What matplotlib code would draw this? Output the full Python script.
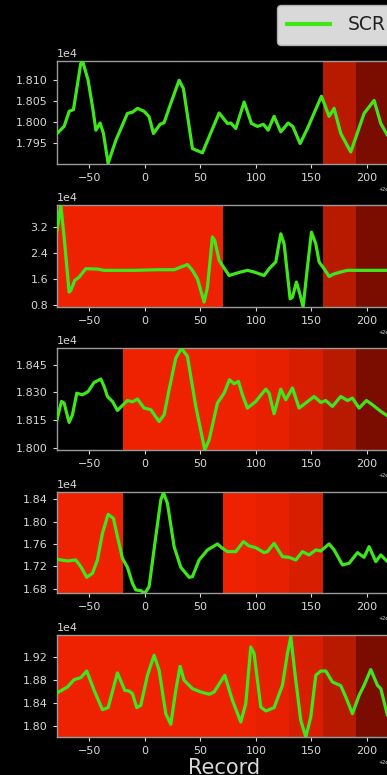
import matplotlib
import matplotlib.pyplot as plt
from matplotlib.ticker import MultipleLocator

matplotlib.use("agg")

X_BASE = 20000

# panel 1
p1_x = [-79, -72.6, -68, -64.2, -57.6, -56, -51, -47, -44, -40.2, -37.2, -33, -26,
        -15.6, -11, -6.6, -0.6, 3.9, 7.8, 13.8, 17.4, 23.4, 30.9, 34.8, 42.9, 47.4,
        51.9, 57.9, 66.9, 74.4, 77.4, 81.9, 89.4, 96, 101.4, 106.8, 111, 116.4,
        122.4, 129, 133.2, 139.8, 146.4, 159, 165.9, 170.4, 176.4, 185.4, 197.4,
        206.4, 212.4, 218.4, 223]
p1_y = [17973, 17990, 18026, 18030, 18140, 18146, 18100, 18036, 17981, 17998, 17973,
        17902, 17957, 18021, 18024, 18033, 18026, 18013, 17973, 17995, 17999, 18045,
        18100, 18080, 17937, 17932, 17927, 17965, 18022, 17997, 17998, 17985, 18048,
        17997, 17990, 17995, 17981, 18014, 17977, 17998, 17990, 17949, 17985, 18062,
        18014, 18033, 17973, 17929, 18021, 18052, 17997, 17969, 17955]

# panel 2
p2_x = [-79, -75.6, -72.6, -68.1, -66.6, -63, -59.1, -53.1, -42.6, -36.6, -9.6, 11.4,
        26.4, 32.4, 38.4, 42.9, 47.4, 50.4, 53.4, 56.4, 60.9, 63, 66.9, 69.9, 75.9,
        80.4, 86.4, 92.4, 98.4, 107.4, 111.9, 117.9, 122.4, 125.4, 130.8, 132.9,
        136.5, 139.5, 142.5, 146.4, 150, 153.9, 156.9, 161.4, 165.9, 170.4, 176.4,
        182.4, 223]
p2_y = [31000, 38800, 29000, 12000, 12500, 15600, 16600, 19200, 19100, 18700, 18700,
        18900, 18900, 19700, 20500, 18700, 16100, 12500, 8900, 13500, 29000, 27900,
        21800, 20200, 17100, 17600, 18200, 18700, 18200, 17100, 19200, 21300, 30000,
        26900, 9900, 10400, 15100, 11500, 7400, 19700, 30500, 26900, 21300, 19200,
        16800, 17600, 18200, 18700, 18700]

# panel 3
p3_x = [-79, -75, -72.6, -68.1, -65.1, -61.2, -56.1, -51, -45.6, -39.6, -36.6, -33.6,
        -29.1, -24.6, -21, -15.6, -11.1, -6.6, -0.6, 5.4, 12.9, 17.4, 21.9, 27.9, 33,
        38.4, 45.9, 54, 57.9, 65.4, 71.4, 76.2, 80.4, 84.3, 87.9, 92.4, 99.9, 108.9,
        111.9, 116.4, 122.4, 126.9, 132.9, 138.9, 152.4, 158.4, 162.9, 168.9, 176.4,
        182.4, 186.9, 192.9, 199.5, 204.9, 212.4, 218.4, 223]
p3_y = [18151, 18251, 18242, 18137, 18178, 18296, 18287, 18305, 18354, 18373, 18333,
        18278, 18251, 18202, 18224, 18256, 18249, 18264, 18215, 18206, 18142, 18178,
        18315, 18487, 18540, 18496, 18224, 17988, 18042, 18242, 18296, 18369, 18347,
        18360, 18287, 18215, 18251, 18318, 18296, 18184, 18318, 18260, 18324, 18215,
        18278, 18246, 18256, 18224, 18278, 18256, 18269, 18215, 18256, 18233, 18197,
        18173, 18165]

# panel 4
p4_x = [-79, -69.6, -62.1, -57.6, -52.2, -47.1, -42.6, -38.1, -33, -28.2, -24.6,
        -20.1, -15.6, -11.1, -8.1, -3.6, 0, 3.9, 9.9, 14.4, 16.8, 20.4, 26.4, 32.4,
        39.9, 42.9, 48.9, 56.4, 65.4, 69.9, 74.4, 81.9, 88.8, 93.9, 99.9, 107.4,
        110.4, 116.4, 123.9, 129.9, 135.9, 141.9, 147.9, 153.9, 158.4, 165.9, 170.4,
        177.9, 183.9, 191.4, 197.4, 201.9, 207.9, 212.4, 218.4, 223]
p4_y = [17325, 17296, 17313, 17194, 17003, 17075, 17313, 17791, 18131, 18060, 17731,
        17343, 17182, 16896, 16776, 16764, 16716, 16836, 17731, 18388, 18519, 18328,
        17552, 17182, 17003, 17015, 17313, 17493, 17600, 17522, 17463, 17463, 17642,
        17564, 17534, 17445, 17463, 17612, 17373, 17361, 17313, 17463, 17403, 17493,
        17475, 17600, 17493, 17224, 17254, 17445, 17361, 17552, 17284, 17403, 17284,
        17300]

# panel 5
p5_x = [-79, -69.6, -63.6, -57.6, -52.2, -45.6, -38.1, -33, -24.6, -18, -14.1, -11.1,
        -7.2, -3.6, 2.4, 8.4, 12.9, 18.9, 23.4, 27.9, 31.8, 35.4, 42.9, 50.4, 57.9,
        62.4, 72, 78.9, 86.4, 90.9, 95.4, 98.4, 104.4, 108.9, 116.4, 123.9, 128.4,
        131.4, 135.9, 140.4, 144.9, 149.4, 153.9, 158.4, 162.9, 168.9, 176.4, 180.9,
        186.9, 192.9, 197.4, 203.4, 209.4, 212.4, 218.4, 223]
p5_y = [18580, 18684, 18812, 18846, 18962, 18626, 18290, 18325, 18928, 18626, 18614,
        18568, 18325, 18365, 18887, 19235, 18974, 18220, 18035, 18626, 19043, 18800,
        18655, 18597, 18557, 18597, 18887, 18452, 18075, 18394, 19380, 19264, 18336,
        18267, 18325, 18713, 19264, 19554, 18800, 18104, 17814, 18162, 18887, 18962,
        18962, 18771, 18707, 18510, 18220, 18539, 18713, 18986, 18713, 18655, 18191,
        18120]

# highlighted windows: (start, end, shade level)
p1_spans = [(160, 190, 3), (190, 230, 4)]
p2_spans = [(-80, 70, 0), (160, 190, 3), (190, 230, 4)]
p3_spans = [(-20, 100, 0), (100, 130, 1), (130, 160, 2), (160, 190, 3), (190, 230, 4)]
p4_spans = [(-80, -20, 0), (70, 100, 0), (100, 130, 1), (130, 160, 2)]
p5_spans = [(-80, 100, 0), (100, 130, 1), (130, 160, 2), (160, 190, 3), (190, 230, 4)]

ylims = [(17901, 18146), (7290, 38890), (17987, 18540), (16716, 18537), (17809, 19588)]
ysteps = [50, 8000, 150, 400, 400]

shades = ["#ee2200", "#e62000", "#d81e00", "#b81a00", "#7a0c00"]
green = "#3ee61a"
fg = "#d8d8d8"

# axes tops/bottoms in pixels (fig is 387x775)
panel_px = [(61, 163.7), (205, 307.3), (348.3, 450), (491.7, 593.3), (635, 737.3)]


def draw_panel(fig, rect, xs, ys, spans, ylim, ystep):
    ax = fig.add_axes(rect)
    ax.set_facecolor("black")
    for s0, s1, lvl in spans:
        ax.axvspan(X_BASE + s0, X_BASE + s1, color=shades[lvl], lw=0, zorder=0)
    (line,) = ax.plot([X_BASE + x for x in xs], ys, color=green, lw=2.3,
                      solid_joinstyle="round", zorder=3)
    ax.set_xlim(X_BASE - 79, X_BASE + 222.5)
    ax.set_ylim(*ylim)
    ax.yaxis.set_major_locator(MultipleLocator(ystep))
    ax.xaxis.set_major_locator(MultipleLocator(50))
    ax.ticklabel_format(axis="y", style="sci", scilimits=(0, 0), useOffset=False)
    ax.xaxis.get_major_formatter().set_useOffset(X_BASE)
    ax.tick_params(colors=fg, labelsize=8, length=3)
    ax.yaxis.get_offset_text().set_color(fg)
    ax.yaxis.get_offset_text().set_fontsize(8)
    ax.xaxis.get_offset_text().set_color(fg)
    ax.xaxis.get_offset_text().set_fontsize(3.5)
    for sp in ax.spines.values():
        sp.set_color("#9a9a9a")
        sp.set_linewidth(1.0)
    return ax, line


fig = plt.figure(figsize=(3.87, 7.75), dpi=100, facecolor="black")

all_x = [p1_x, p2_x, p3_x, p4_x, p5_x]
all_y = [p1_y, p2_y, p3_y, p4_y, p5_y]
all_spans = [p1_spans, p2_spans, p3_spans, p4_spans, p5_spans]

left = 57 / 387
width = (392 - 57) / 387
axes = []
for i in range(5):
    top, bot = panel_px[i]
    rect = [left, 1 - bot / 775, width, (bot - top) / 775]
    ax, line = draw_panel(fig, rect, all_x[i], all_y[i], all_spans[i], ylims[i], ysteps[i])
    axes.append(ax)

axes[-1].set_xlabel("Record", color=fg, fontsize=15, labelpad=1)

leg = fig.legend(handles=[line], labels=["SCR"], loc="upper left",
                 bbox_to_anchor=(277 / 387, 1 - 5 / 775), borderaxespad=0,
                 facecolor="#d9d9d9", edgecolor="#b0b0b0", framealpha=1,
                 handlelength=2.3, handletextpad=0.9, borderpad=0.55,
                 prop={"size": 13.5})
for t in leg.get_texts():
    t.set_color("#222222")
leg.get_lines()[0].set_linewidth(3)

fig.savefig("out.png", dpi=100, facecolor="black")
